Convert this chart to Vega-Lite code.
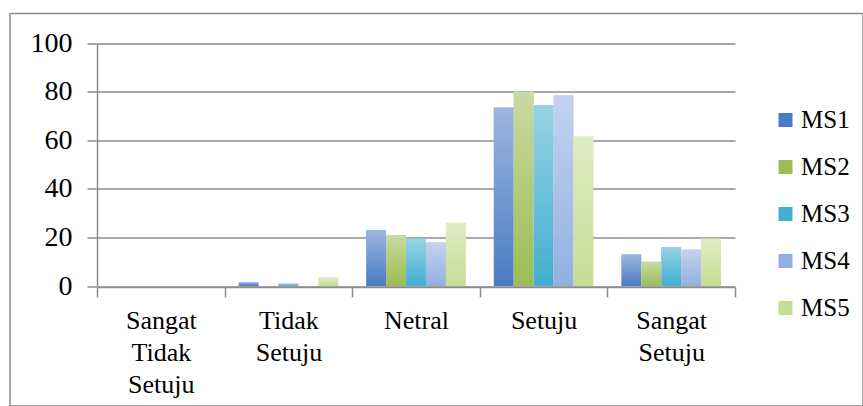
{
  "$schema": "https://vega.github.io/schema/vega-lite/v6.json",
  "autosize": {"type": "none"},
  "padding": {"left": 10, "top": 13.5, "right": 0, "bottom": 0},
  "width": 853,
  "height": 392.5,
  "background": "white",
  "config": {
    "view": {"stroke": "#8c8c8c", "strokeWidth": 1.5},
    "font": "Liberation Serif, serif",
    "axis": {
      "domainColor": "#8c8c8c",
      "domainWidth": 1.5,
      "tickColor": "#8c8c8c",
      "tickWidth": 1.5,
      "gridColor": "#8c8c8c",
      "gridWidth": 1.5,
      "labelColor": "#000000",
      "labelFont": "Liberation Serif, serif",
      "labelFontSize": 27,
      "title": null
    }
  },
  "data": {
    "values": [
      {"kategori": "Sangat Tidak Setuju", "seri": "MS1", "nilai": 0},
      {"kategori": "Sangat Tidak Setuju", "seri": "MS2", "nilai": 0},
      {"kategori": "Sangat Tidak Setuju", "seri": "MS3", "nilai": 0},
      {"kategori": "Sangat Tidak Setuju", "seri": "MS4", "nilai": 0},
      {"kategori": "Sangat Tidak Setuju", "seri": "MS5", "nilai": 0},
      {"kategori": "Tidak Setuju", "seri": "MS1", "nilai": 1.5},
      {"kategori": "Tidak Setuju", "seri": "MS2", "nilai": 0},
      {"kategori": "Tidak Setuju", "seri": "MS3", "nilai": 1},
      {"kategori": "Tidak Setuju", "seri": "MS4", "nilai": 0},
      {"kategori": "Tidak Setuju", "seri": "MS5", "nilai": 3.5},
      {"kategori": "Netral", "seri": "MS1", "nilai": 23},
      {"kategori": "Netral", "seri": "MS2", "nilai": 21},
      {"kategori": "Netral", "seri": "MS3", "nilai": 19.5},
      {"kategori": "Netral", "seri": "MS4", "nilai": 18},
      {"kategori": "Netral", "seri": "MS5", "nilai": 26},
      {"kategori": "Setuju", "seri": "MS1", "nilai": 73.5},
      {"kategori": "Setuju", "seri": "MS2", "nilai": 80},
      {"kategori": "Setuju", "seri": "MS3", "nilai": 74.5},
      {"kategori": "Setuju", "seri": "MS4", "nilai": 78.5},
      {"kategori": "Setuju", "seri": "MS5", "nilai": 61.5},
      {"kategori": "Sangat Setuju", "seri": "MS1", "nilai": 13},
      {"kategori": "Sangat Setuju", "seri": "MS2", "nilai": 10},
      {"kategori": "Sangat Setuju", "seri": "MS3", "nilai": 16},
      {"kategori": "Sangat Setuju", "seri": "MS4", "nilai": 15},
      {"kategori": "Sangat Setuju", "seri": "MS5", "nilai": 19.5}
    ]
  },
  "encoding": {
    "x": {
      "field": "kategori",
      "type": "nominal",
      "sort": null,
      "scale": {"range": [87, 725], "paddingInner": 0, "paddingOuter": 0},
      "axis": {
        "orient": "bottom",
        "offset": -119,
        "tickBand": "extent",
        "tickSize": 10,
        "labelAngle": 0,
        "labelPadding": 10,
        "labelLineHeight": 32,
        "labelFont": "Liberation Serif, serif",
        "labelFontSize": 26,
        "labelColor": "#000000",
        "labelExpr": "split(datum.label, ' ')",
        "grid": false
      }
    },
    "xOffset": {
      "field": "seri",
      "type": "nominal",
      "scale": {"paddingOuter": 0.7, "paddingInner": 0}
    },
    "y": {
      "field": "nilai",
      "type": "quantitative",
      "scale": {"domain": [0, 100], "range": [272.5, 29.5], "nice": false, "zero": true},
      "axis": {
        "orient": "left",
        "offset": -87,
        "values": [0, 20, 40, 60, 80, 100],
        "tickSize": 10,
        "labelPadding": 15,
        "labelFont": "Liberation Serif, serif",
        "labelFontSize": 28,
        "labelColor": "#000000",
        "grid": true
      }
    }
  },
  "layer": [
    {
      "mark": {"type": "bar"},
      "encoding": {
        "color": {
          "field": "seri",
          "type": "nominal",
          "scale": {
            "domain": ["MS1", "MS2", "MS3", "MS4", "MS5"],
            "range": ["#4a7bc4", "#9bbd55", "#43aecf", "#93afe2", "#c6dd94"]
          },
          "legend": {
            "orient": "none",
            "legendX": 763,
            "legendY": 94,
            "title": null,
            "padding": 0,
            "symbolType": "square",
            "symbolSize": 196,
            "symbolStrokeWidth": 0,
            "symbolOpacity": 1,
            "labelFont": "Liberation Serif, serif",
            "labelFontSize": 25,
            "labelColor": "#000000",
            "labelOffset": 3,
            "rowPadding": 21
          }
        }
      }
    },
    {
      "mark": {
        "type": "bar",
        "color": {
          "gradient": "linear",
          "x1": 0, "y1": 0, "x2": 0, "y2": 1,
          "stops": [
            {"offset": 0, "color": "rgba(255,255,255,0.45)"},
            {"offset": 1, "color": "rgba(255,255,255,0)"}
          ]
        }
      },
      "encoding": {}
    }
  ]
}
